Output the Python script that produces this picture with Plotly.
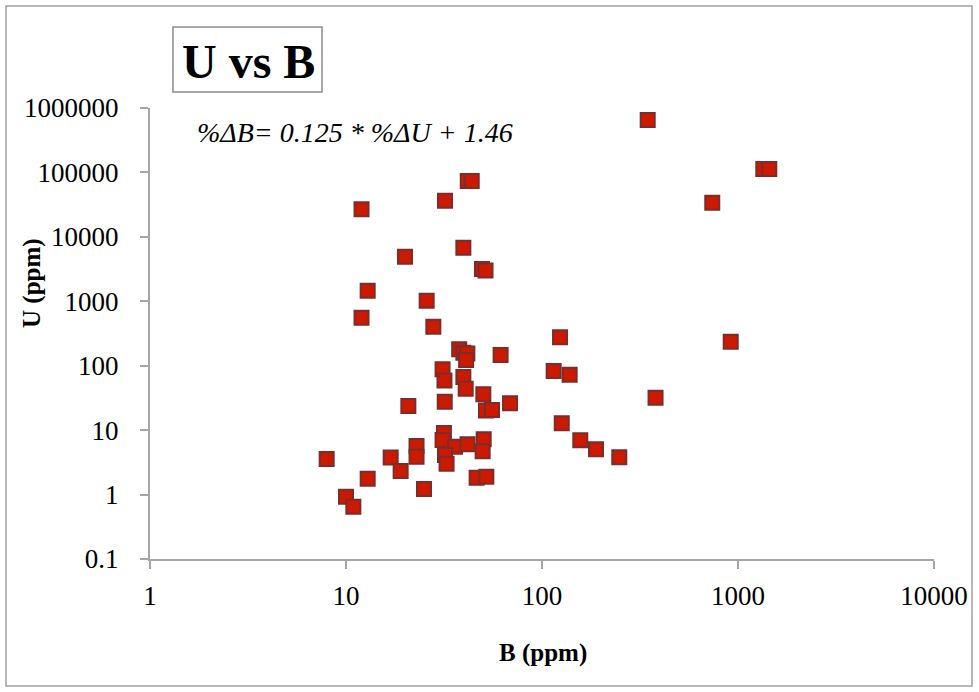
import plotly.graph_objects as go

# B (ppm) and U (ppm) values
B_ppm = [41.8, 43.8, 32.0, 12.0, 39.7, 20.0, 49.4, 51.5, 12.9, 25.8,
         12.0, 27.9, 37.8, 39.7, 41.6, 41.0, 61.5, 31.1, 31.8, 39.7,
         40.8, 50.2, 68.7, 51.8, 55.6, 20.8, 31.9, 123.6, 114.7, 138.4,
         126.1, 156.8, 188.6, 247.9, 379.6, 346.2, 1346, 1444, 739, 918,
         7.97, 12.9, 10.0, 10.9, 16.9, 19.0, 22.9, 22.9, 25.0, 31.6,
         31.1, 36.0, 41.7, 50.4, 49.8, 32.0, 32.6, 46.4, 52.0]
U_ppm = [73600, 73600, 36400, 26800, 6790, 4920, 3170, 3000, 1460, 1020,
         556, 403, 180, 159, 155, 123, 147, 88, 58.9, 66.8,
         44.0, 36.0, 26.1, 20.2, 20.5, 23.7, 27.6, 276, 82.8, 72.5,
         12.8, 6.95, 5.04, 3.79, 31.9, 651000, 113000, 113000, 33900, 236,
         3.56, 1.76, 0.927, 0.649, 3.76, 2.32, 5.67, 3.87, 1.22, 9.0,
         7.0, 5.53, 6.03, 7.23, 4.71, 4.11, 3.01, 1.83, 1.89]

x_tick_vals = [1, 10, 100, 1000, 10000]
x_tick_text = ["1", "10", "100", "1000", "10000"]
y_tick_vals = [0.1, 1, 10, 100, 1000, 10000, 100000, 1000000]
y_tick_text = ["0.1", "1", "10", "100", "1000", "10000", "100000", "1000000"]

title_text = "U vs B"
equation_text = "%ΔB= 0.125 * %ΔU + 1.46"
x_title = "B (ppm)"
y_title = "U (ppm)"

FONT = "Liberation Serif, Times New Roman, serif"
AXIS_COLOR = "#a6a6a6"

fig = go.Figure()
fig.add_trace(go.Scatter(
    x=B_ppm, y=U_ppm, mode="markers",
    marker=dict(symbol="square", size=14, color="#cc1a00",
                line=dict(color="#7d2c2c", width=2)),
    showlegend=False, hoverinfo="x+y",
))

fig.update_layout(
    width=979, height=692,
    margin=dict(l=150, r=45, t=108, b=133),
    paper_bgcolor="white", plot_bgcolor="white",
    font=dict(family=FONT, size=27, color="black"),
    showlegend=False,
)
fig.update_xaxes(
    type="log", range=[0, 4], tickvals=x_tick_vals, ticktext=x_tick_text,
    showgrid=False, zeroline=False, showline=True, linecolor=AXIS_COLOR,
    linewidth=2, ticks="outside", ticklen=8, tickwidth=2, tickcolor=AXIS_COLOR,
    tickfont=dict(family=FONT, size=27, color="black"), ticklabelstandoff=4,
)
fig.update_yaxes(
    type="log", range=[-1, 6], tickvals=y_tick_vals, ticktext=y_tick_text,
    showgrid=False, zeroline=False, showline=True, linecolor=AXIS_COLOR,
    linewidth=2, ticks="outside", ticklen=8, tickwidth=2, tickcolor=AXIS_COLOR,
    tickfont=dict(family=FONT, size=27, color="black"), ticklabelstandoff=16,
)

# outer chart border
fig.add_shape(type="rect", xref="paper", yref="paper",
              x0=-0.1837, x1=1.0485, y0=-0.2816, y1=1.2262,
              line=dict(color="#a0a0a0", width=1.5), fillcolor="rgba(0,0,0,0)",
              layer="below")
# title box
fig.add_shape(type="rect", xref="paper", yref="paper",
              x0=0.0293, x1=0.2194, y0=1.0355, y1=1.1796,
              line=dict(color="#8c8c8c", width=1.5), fillcolor="white")

fig.add_annotation(text="<b>" + title_text + "</b>", xref="paper", yref="paper",
                   x=0.125, y=1.104, xanchor="center", yanchor="middle",
                   showarrow=False, font=dict(family=FONT, size=48, color="black"))
fig.add_annotation(text="<i>" + equation_text + "</i>", xref="paper", yref="paper",
                   x=0.0574, y=0.946, xanchor="left", yanchor="middle",
                   showarrow=False, font=dict(family=FONT, size=28, color="black"))
fig.add_annotation(text="<b>" + x_title + "</b>", xref="paper", yref="paper",
                   x=0.501, y=-0.2084, xanchor="center", yanchor="middle",
                   showarrow=False, font=dict(family=FONT, size=25, color="black"))
fig.add_annotation(text="<b>" + y_title + "</b>", xref="paper", yref="paper",
                   x=-0.1505, y=0.612, xanchor="center", yanchor="middle",
                   textangle=-90, showarrow=False,
                   font=dict(family=FONT, size=25, color="black"))

fig.write_html("out.html")
